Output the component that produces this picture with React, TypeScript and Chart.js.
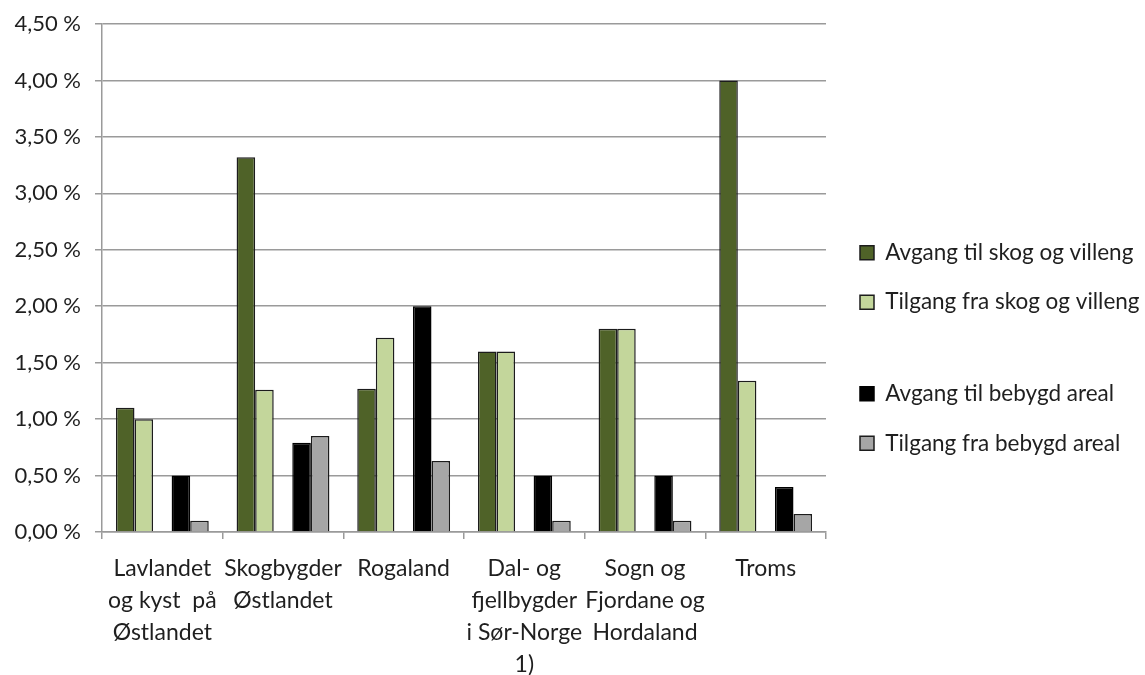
import React, { useEffect, useRef } from "react";
import { Chart, registerables } from "chart.js";

Chart.register(...registerables);

const categories: string[][] = [
  ["Lavlandet", "og kyst  på", "Østlandet"],
  ["Skogbygder", "Østlandet"],
  ["Rogaland"],
  ["Dal- og", "fjellbygder", "i Sør-Norge", "1)"],
  ["Sogn og", "Fjordane og", "Hordaland"],
  ["Troms"],
];

const seriesNames = [
  "Avgang til skog og villeng",
  "Tilgang fra skog og villeng",
  "",
  "Avgang til bebygd areal",
  "Tilgang fra bebygd areal",
];

const avgangSkog = [1.1, 3.32, 1.27, 1.6, 1.8, 4.0];
const tilgangSkog = [1.0, 1.26, 1.72, 1.6, 1.8, 1.34];
const blankSeries = [null, null, null, null, null, null];
const avgangBebygd = [0.5, 0.79, 2.0, 0.5, 0.5, 0.4];
const tilgangBebygd = [0.1, 0.85, 0.63, 0.1, 0.1, 0.16];

const yTicks = [0, 0.5, 1, 1.5, 2, 2.5, 3, 3.5, 4, 4.5];

const FONT = "Lato";
const LEGEND_WIDTH = 312;
const LEGEND_SHIFT = 11;

const legendWidthPlugin = {
  id: "legendWidth",
  beforeLayout(chart: any) {
    const lg = chart.legend;
    if (lg && !lg.__patched) {
      const f = lg.fit.bind(lg);
      lg.fit = function () {
        f();
        this.width = LEGEND_WIDTH;
      };
      lg.__patched = true;
    }
  },
  afterLayout(chart: any) {
    const lg = chart.legend;
    if (lg) {
      lg.top -= LEGEND_SHIFT;
      lg.bottom -= LEGEND_SHIFT;
    }
  },
};

export default function App() {
  const ref = useRef<HTMLCanvasElement>(null);

  useEffect(() => {
    document.body.style.margin = "0";
    const gridColor = "#9a9a9a";
    const textColor = "#1f1f1f";
    const chart = new Chart(ref.current as HTMLCanvasElement, {
      type: "bar",
      plugins: [legendWidthPlugin],
      data: {
        labels: categories as any,
        datasets: [
          { label: seriesNames[0], data: avgangSkog, backgroundColor: "#4F6228", borderColor: "#1c1c1c", borderWidth: 1.5 },
          { label: seriesNames[1], data: tilgangSkog, backgroundColor: "#C3D69B", borderColor: "#1c1c1c", borderWidth: 1.5 },
          { label: seriesNames[2], data: blankSeries as any, backgroundColor: "rgba(0,0,0,0)", borderColor: "rgba(0,0,0,0)", borderWidth: 0 },
          { label: seriesNames[3], data: avgangBebygd, backgroundColor: "#000000", borderColor: "#000000", borderWidth: 1.5 },
          { label: seriesNames[4], data: tilgangBebygd, backgroundColor: "#A6A6A6", borderColor: "#1c1c1c", borderWidth: 1.5 },
        ],
      },
      options: {
        responsive: false,
        animation: false,
        layout: { padding: { top: 24, bottom: -19, left: 0, right: 0 } },
        datasets: { bar: { categoryPercentage: 5 / 6.5, barPercentage: 1 } },
        scales: {
          x: {
            grid: { display: true, drawOnChartArea: false, drawTicks: true, tickLength: 7, color: gridColor, lineWidth: 1.5, offset: true },
            border: { display: true, color: gridColor, width: 1.5 },
            ticks: {
              font: { family: FONT, size: 23, lineHeight: 1.38 },
              color: textColor,
              maxRotation: 0,
              minRotation: 0,
              autoSkip: false,
              padding: 14,
            },
          },
          y: {
            min: 0,
            max: 4.5,
            afterBuildTicks: (s: any) => {
              s.ticks = yTicks.map((v) => ({ value: v }));
            },
            afterFit: (s: any) => {
              s.width = 102;
              s.paddingTop = 0;
              s.paddingBottom = 0;
            },
            ticks: {
              font: { family: FONT, size: 22 },
              color: textColor,
              padding: 14,
              callback: (v: any) => Number(v).toFixed(2).replace(".", ",") + " %",
            },
            grid: { color: gridColor, lineWidth: 1.5, tickLength: 7 },
            border: { display: true, color: gridColor, width: 1.5 },
          },
          y2: {
            type: "linear",
            position: "right",
            display: true,
            grid: { display: false },
            ticks: { display: false },
            border: { display: false },
            afterFit: (s: any) => {
              s.width = 7;
              s.paddingTop = 0;
              s.paddingBottom = 0;
            },
          },
        },
        plugins: {
          tooltip: { enabled: false },
          legend: {
            position: "right",
            labels: {
              font: { family: FONT, size: 22.5, lineHeight: 0.67 },
              color: textColor,
              boxWidth: 14,
              boxHeight: 14,
              padding: 27,
              generateLabels: (c: any) => {
                const items = (Chart.defaults.plugins.legend.labels as any).generateLabels(c);
                return items.map((it: any, i: number) =>
                  i === 2
                    ? { ...it, text: [""], fillStyle: "rgba(0,0,0,0)", strokeStyle: "rgba(0,0,0,0)", lineWidth: 0 }
                    : it
                );
              },
            },
          },
        },
      },
    } as any);
    return () => chart.destroy();
  }, []);

  return (
    <div style={{ width: 1145, height: 675, background: "#ffffff" }}>
      <canvas ref={ref} width={1145} height={675} style={{ display: "block" }} />
    </div>
  );
}
